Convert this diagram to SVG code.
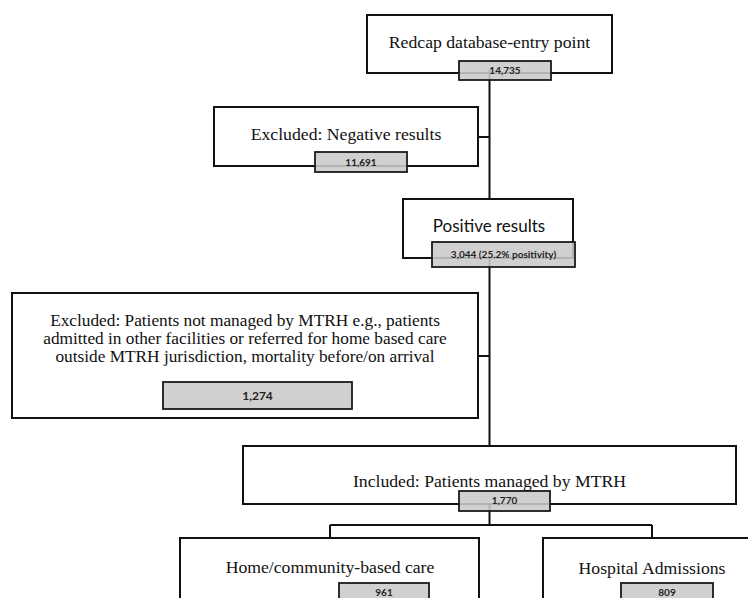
<svg xmlns="http://www.w3.org/2000/svg" width="748" height="598" viewBox="0 0 748 598">
<style>
.box{fill:#fff;stroke:#111;stroke-width:2}
.cnt{fill:#c9c9c9;fill-opacity:0.88;stroke:#1a1a1a;stroke-width:1.8}
.t{font-family:"Liberation Serif","Times New Roman",serif;font-size:17.7px;fill:#111;text-anchor:middle}
.t2{font-family:"Liberation Serif","Times New Roman",serif;font-size:17.3px;fill:#111;text-anchor:middle}
.s{font-family:Lato,"Liberation Sans",sans-serif;font-size:17px;fill:#111;text-anchor:middle}
.c{font-family:Lato,"Liberation Sans",sans-serif;font-size:10px;font-weight:bold;fill:#222;text-anchor:middle}
.ln{fill:none;stroke:#111;stroke-width:2}
</style>
<rect width="748" height="598" fill="#fff"/>
<g id="n1"><rect class="box" x="367" y="15" width="245" height="58"/><text class="t" x="489.5" y="48">Redcap database-entry point</text></g>
<g id="n2"><rect class="box" x="214" y="107" width="264" height="59"/><text class="t" x="346" y="140">Excluded: Negative results</text></g>
<g id="n3"><rect class="box" x="403" y="199" width="170" height="59"/><text class="s" x="489" y="232">Positive results</text></g>
<g id="n4"><rect class="box" x="12" y="293" width="466" height="125"/>
<text class="t2" x="245" y="326">Excluded: Patients not managed by MTRH e.g., patients</text>
<text class="t2" x="245" y="344">admitted in other facilities or referred for home based care</text>
<text class="t2" x="245" y="362">outside MTRH jurisdiction, mortality before/on arrival</text></g>
<g id="n5"><rect class="box" x="243" y="446" width="493" height="58"/><text class="t" x="489.5" y="487">Included: Patients managed by MTRH</text></g>
<g id="n6"><rect class="box" x="180" y="538" width="299" height="70"/><text class="t" x="330" y="573">Home/community-based care</text></g>
<g id="n7"><rect class="box" x="543" y="538" width="218" height="70"/><text class="t" x="652" y="574">Hospital Admissions</text></g>
<g id="connectors">
<path class="ln" d="M489.5 70V199M478 137H489.5M489.5 258V446M478 356H489.5M489.5 504V525M330 525H652M330 525V538M652 525V538"/>
</g>
<g id="counts">
<rect class="cnt" x="459" y="61" width="92" height="19"/><text class="c" x="505" y="74">14,735</text>
<rect class="cnt" x="315" y="152" width="92" height="20"/><text class="c" x="361" y="166">11,691</text>
<rect class="cnt" x="432" y="242" width="143" height="25"/><text class="c" x="503.5" y="258">3,044 (25.2% positivity)</text>
<rect class="cnt" x="163" y="382" width="189" height="27"/><text class="c" x="257.5" y="400" style="font-size:12px">1,274</text>
<rect class="cnt" x="459" y="491" width="91" height="20"/><text class="c" x="504.5" y="504">1,770</text>
<rect class="cnt" x="339" y="583" width="90" height="20"/><text class="c" x="384" y="596">961</text>
<rect class="cnt" x="621" y="583" width="92" height="20"/><text class="c" x="667" y="596">809</text>
</g>
</svg>
